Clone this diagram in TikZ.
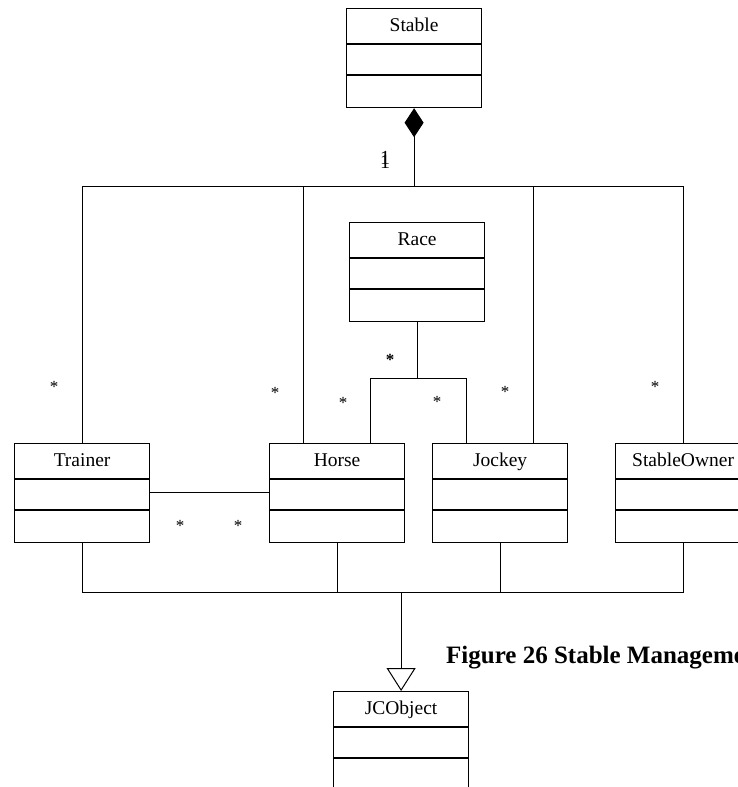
\documentclass[tikz,border=0pt]{standalone}
\usepackage{fontspec}
\setmainfont{Liberation Serif}
\usetikzlibrary{arrows.meta}

\tikzset{
  cls/.style={draw, line width=1.2pt, minimum width=135pt, minimum height=99pt,
              inner sep=0pt, anchor=north west},
  clsname/.style={font=\fontsize{19.5}{21}\selectfont, anchor=base, inner sep=0pt},
  conn/.style={line width=1pt},
  mult/.style={font=\fontsize{17}{18}\selectfont, inner sep=0pt},
  caption/.style={font=\fontsize{25}{27}\selectfont\bfseries, anchor=base west, inner sep=0pt},
}

% A class box with three compartments: name, attributes, operations
\newcommand\umlclass[4]{%
  \node[cls] (#1) at (#2,#3) {};
  \node[clsname] (#1-name) at ([yshift=-23.5pt]#1.north) {#4};
  \draw[line width=1.2pt] ([yshift=-36pt]#1.north west) -- ([yshift=-36pt]#1.north east);
  \draw[line width=1.2pt] ([yshift=-67pt]#1.north west) -- ([yshift=-67pt]#1.north east);
}

\begin{document}
\begin{tikzpicture}[x=1pt, y=-1pt]
  \clip (0,0) rectangle (738,787);
  \fill[white] (0,0) rectangle (738,787);

  % classes
  \umlclass{stable}{346}{8}{Stable}
  \umlclass{race}{349}{222}{Race}
  \umlclass{trainer}{14}{443}{Trainer}
  \umlclass{horse}{269}{443}{Horse}
  \umlclass{jockey}{432}{443}{Jockey}
  \umlclass{owner}{615}{443}{StableOwner}
  \umlclass{jcobject}{333}{691}{JCObject}

  % bus levels
  \coordinate (topbus) at (0,186);
  \coordinate (racebus) at (0,378);
  \coordinate (basebus) at (0,592);

  % attachment points on the top edges of Horse and Jockey
  \coordinate (horseS) at ([xshift=-33.5pt]horse.north);
  \coordinate (horseR) at ([xshift=33.5pt]horse.north);
  \coordinate (jockeyR) at ([xshift=-33.5pt]jockey.north);
  \coordinate (jockeyS) at ([xshift=33.5pt]jockey.north);
  \coordinate (genjoin) at (jcobject.north |- basebus);

  % composition: Stable owns trainers, horses, jockeys and owners
  \draw[conn, {Diamond[length=29pt, width=19pt, fill=black]}-]
    (stable.south) -- (stable.south |- topbus);
  \draw[conn] (trainer.north) -- (trainer.north |- topbus)
    -- (owner.north |- topbus) -- (owner.north);
  \draw[conn] (horseS) -- (horseS |- topbus);
  \draw[conn] (jockeyS) -- (jockeyS |- topbus);

  % Race links horses and jockeys
  \draw[conn] (race.south) -- (race.south |- racebus);
  \draw[conn] (horseR) -- (horseR |- racebus) -- (jockeyR |- racebus) -- (jockeyR);

  % Trainer -- Horse
  \draw[conn] ([yshift=-49pt]trainer.north east) -- ([yshift=-49pt]horse.north west);

  % generalization to JCObject
  \draw[conn] (trainer.south) -- (trainer.south |- basebus)
    -- (owner.south |- basebus) -- (owner.south);
  \draw[conn] (horse.south) -- (horse.south |- basebus);
  \draw[conn] (jockey.south) -- (jockey.south |- basebus);
  \draw[conn, -{Triangle[open, length=23pt, width=29pt, fill=white]}]
    (genjoin) -- (jcobject.north);

  % multiplicities (the two 1s of the composition end print over each other)
  \node[mult, font=\fontsize{20}{21}\selectfont, anchor=base] (m1a) at (385,164) {1};
  \node[mult, font=\fontsize{20}{21}\selectfont, anchor=base] (m1b) at (385,168) {1};
  \node[mult] (m2) at (54,387) {*};
  \node[mult] (m3) at (275,393) {*};
  \node[mult] (m4) at (505,392) {*};
  \node[mult] (m5) at (655,387) {*};
  \node[mult, font=\fontsize{17}{18}\selectfont\bfseries] (m6) at (390,360) {*};
  \node[mult] (m7) at (343,403) {*};
  \node[mult] (m8) at (437,402) {*};
  \node[mult] (m9) at (180,526) {*};
  \node[mult] (m10) at (238,526) {*};

  % caption
  \node[caption] (cap) at (446,663) {Figure 26 Stable Management};
\end{tikzpicture}
\end{document}
